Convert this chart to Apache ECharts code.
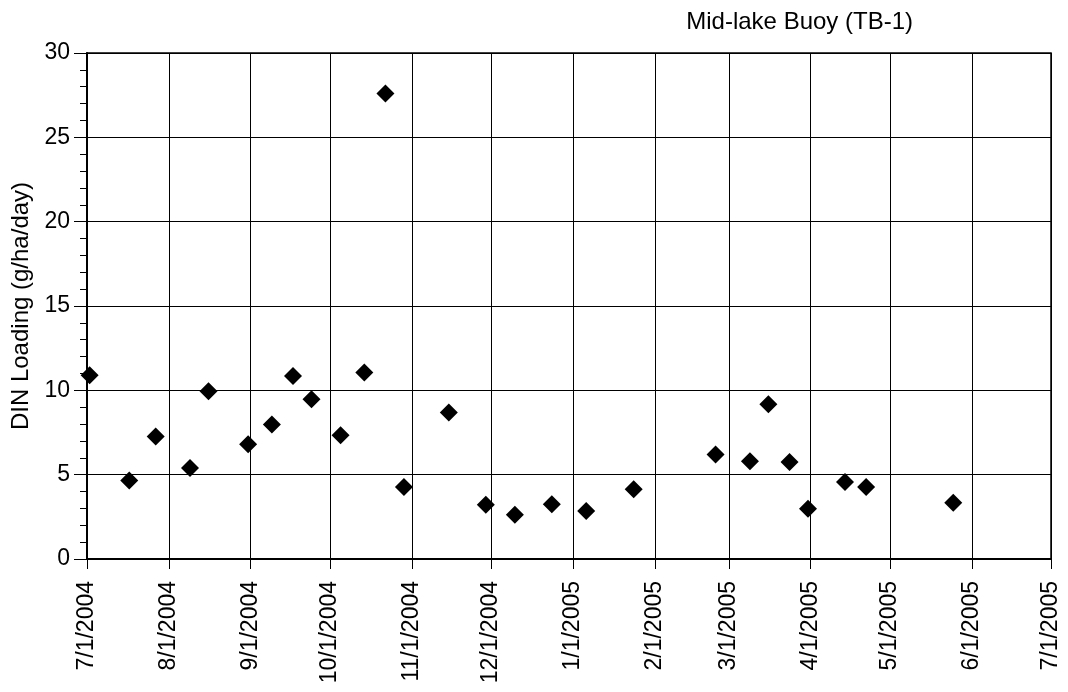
<!DOCTYPE html>
<html>
<head>
<meta charset="utf-8">
<title>Mid-lake Buoy (TB-1) DIN Loading</title>
<script src="https://cdn.jsdelivr.net/npm/echarts@6/dist/echarts.min.js"></script>
<style>
  html, body { margin: 0; padding: 0; background: #fff; }
  #chart { width: 1068px; height: 692px; }
</style>
</head>
<body>
<div id="chart"></div>
<script>
// Sampling dates at the mid-lake buoy and the DIN loading measured on each
var sampleDates = [
  '2004-07-02', '2004-07-17', '2004-07-27', '2004-08-09', '2004-08-16',
  '2004-08-31', '2004-09-09', '2004-09-17', '2004-09-24', '2004-10-05',
  '2004-10-14', '2004-10-22', '2004-10-29', '2004-11-15', '2004-11-29',
  '2004-12-10', '2004-12-24', '2005-01-06', '2005-01-24', '2005-02-24',
  '2005-03-09', '2005-03-16', '2005-03-24', '2005-03-31', '2005-04-14',
  '2005-04-22', '2005-05-25'
];
var dinLoading = [
  10.9, 4.65, 7.27, 5.39, 9.94,
  6.80, 7.98, 10.85, 9.47, 7.33,
  11.05, 27.6, 4.27, 8.68, 3.22,
  2.63, 3.24, 2.85, 4.13, 6.20,
  5.79, 9.17, 5.75, 2.98, 4.56,
  4.27, 3.34
];

// Month starts used for ticks, grid lines and date labels
var monthTicks = [
  '2004-07-01', '2004-08-01', '2004-09-01', '2004-10-01', '2004-11-01',
  '2004-12-01', '2005-01-01', '2005-02-01', '2005-03-01', '2005-04-01',
  '2005-05-01', '2005-06-01', '2005-07-01'
];
var yTicks = [0, 5, 10, 15, 20, 25, 30];

var chartTitle = 'Mid-lake Buoy (TB-1)';
var yAxisName = 'DIN Loading (g/ha/day)';

function toTime(s) {
  var p = s.split('-');
  return new Date(+p[0], +p[1] - 1, +p[2]).getTime();
}
function fmtDate(v) {
  var d = new Date(v);
  return (d.getMonth() + 1) + '/' + d.getDate() + '/' + d.getFullYear();
}

var monthTimes = monthTicks.map(toTime);
var points = sampleDates.map(function (d, i) { return [toTime(d), dinLoading[i]]; });

var FONT = '"Liberation Sans", Arial, Helvetica, sans-serif';

var chart = echarts.init(document.getElementById('chart'), null, { renderer: 'canvas' });
chart.setOption({
  backgroundColor: '#ffffff',
  animation: false,
  title: {
    text: chartTitle,
    right: 155,
    top: 10,
    padding: 0,
    textStyle: { fontFamily: FONT, fontSize: 24, fontWeight: 'normal', color: '#000' }
  },
  grid: {
    left: 87, right: 17, top: 53, bottom: 133,
    show: true,
    borderColor: '#000',
    borderWidth: 1.5,
    containLabel: false
  },
  xAxis: {
    type: 'value',
    min: monthTimes[0],
    max: monthTimes[monthTimes.length - 1],
    axisLine: { show: true, onZero: false, lineStyle: { color: '#000', width: 2 } },
    axisTick: {
      show: true, length: 10, inside: false,
      customValues: monthTimes,
      lineStyle: { color: '#000', width: 1 }
    },
    axisLabel: {
      show: true,
      customValues: monthTimes,
      rotate: 90,
      margin: 22,
      formatter: function (v) { return fmtDate(v); },
      fontFamily: FONT, fontSize: 23, color: '#000',
      showMinLabel: true, showMaxLabel: true
    },
    splitLine: { show: true, lineStyle: { color: '#000', width: 1 } }
  },
  yAxis: {
    type: 'value',
    min: yTicks[0],
    max: yTicks[yTicks.length - 1],
    interval: yTicks[1] - yTicks[0],
    name: yAxisName,
    nameLocation: 'middle',
    nameRotate: 90,
    nameGap: 50,
    nameTextStyle: { fontFamily: FONT, fontSize: 24, color: '#000' },
    axisLine: { show: true, onZero: false, lineStyle: { color: '#000', width: 2 } },
    axisTick: { show: true, length: 13, inside: false, lineStyle: { color: '#000', width: 1 } },
    minorTick: { show: true, splitNumber: 5, length: 7, lineStyle: { color: '#000', width: 1 } },
    axisLabel: { margin: 17, fontFamily: FONT, fontSize: 23, color: '#000' },
    splitLine: { show: true, lineStyle: { color: '#000', width: 1 } }
  },
  series: [{
    type: 'scatter',
    data: points,
    symbol: 'diamond',
    symbolSize: 18,
    clip: false,
    itemStyle: { color: '#000', opacity: 1 }
  }]
});
</script>
</body>
</html>
